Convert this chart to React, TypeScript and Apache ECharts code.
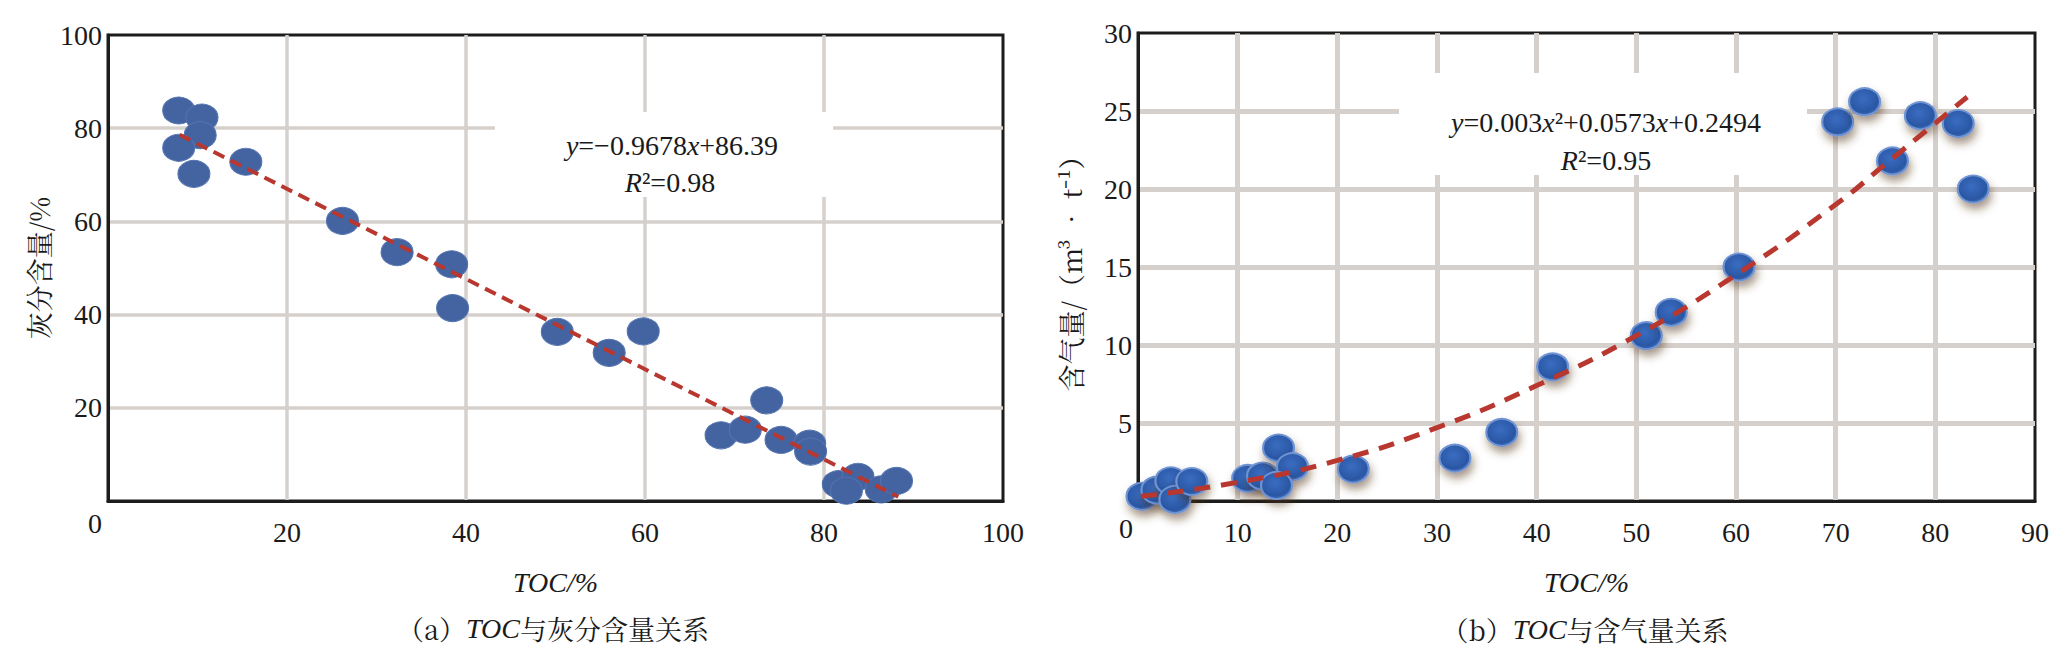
import React, { useEffect, useRef } from 'react';
import * as echarts from 'echarts';

// (a) TOC vs ash content
const ashTOC = [7.9, 10.5, 10.3, 7.9, 9.6, 15.4, 26.2, 32.3, 38.4, 38.5, 50.2, 56.0, 59.8, 73.6, 68.5, 71.2, 75.2, 78.4, 78.5, 81.6, 83.8, 82.5, 86.4, 88.1];
const ashContent = [83.8, 82.3, 78.5, 75.8, 70.2, 72.8, 60.1, 53.4, 50.8, 41.4, 36.3, 31.8, 36.4, 21.6, 14.1, 15.3, 13.1, 12.3, 10.6, 3.6, 5.2, 2.2, 2.5, 4.3];
const ashFitTOC = [8.0, 88.3];
const ashFitValue = [78.6, 0.9];

// (b) TOC vs gas content
const gasTOC = [0.4, 1.9, 3.3, 3.7, 5.4, 11.0, 12.5, 14.1, 15.5, 13.9, 21.6, 31.8, 36.5, 41.6, 51.0, 53.5, 60.3, 70.2, 72.9, 75.7, 78.5, 82.3, 83.8];
const gasContent = [0.3, 0.7, 1.3, 0.1, 1.25, 1.45, 1.6, 3.4, 2.2, 1.0, 2.05, 2.75, 4.4, 8.6, 10.6, 12.1, 15.0, 24.3, 25.6, 21.8, 24.7, 24.2, 20.0];
const gasFitTOC = [0.3, 10, 20, 30, 40, 50, 60, 70, 75, 83.2];
const gasFitValue = [0.3, 1.2, 2.6, 4.7, 7.4, 10.6, 14.5, 19.0, 21.6, 25.9];

const SERIF = 'Liberation Serif';
const CJK = 'Noto Serif CJK SC';
const TXT = '#1a1a1a';
const GRID = '#d6d0cd';
const BORDER = '#1c1c1c';
const TREND = '#b8372f';

const zip = (xs: number[], ys: number[]) => xs.map((x, i) => [x, ys[i]]);

export default function App() {
  const ref = useRef<HTMLDivElement>(null);
  useEffect(() => {
    if (!ref.current) return;
    const chart = echarts.init(ref.current, null, { renderer: 'svg' });

    const xAxisBase = (grid: number, max: number, interval: number, splitW: number) => ({
      type: 'value',
      gridIndex: grid,
      min: 0,
      max,
      interval,
      axisLine: { show: true, onZero: false, lineStyle: { color: BORDER, width: 3 } },
      axisTick: { show: false },
      axisLabel: { fontFamily: SERIF, fontSize: 28, color: TXT, margin: 17, showMinLabel: false, showMaxLabel: true },
      splitLine: { show: true, showMinLine: false, showMaxLine: false, lineStyle: { color: GRID, width: splitW } },
      name: '{i|TOC}/%',
      nameLocation: 'middle',
      nameGap: 67,
      nameTextStyle: {
        fontFamily: SERIF,
        fontSize: 28,
        color: TXT,
        fontStyle: 'italic',
        rich: { i: { fontFamily: SERIF, fontSize: 28, fontStyle: 'italic', color: TXT } },
      },
    });

    const yAxisBase = (grid: number, max: number, interval: number, splitW: number, name: string, nameGap: number) => ({
      type: 'value',
      gridIndex: grid,
      min: 0,
      max,
      interval,
      axisLine: { show: true, onZero: false, lineStyle: { color: BORDER, width: 3 } },
      axisTick: { show: false },
      axisLabel: {
        fontFamily: SERIF,
        fontSize: 28,
        color: TXT,
        margin: 6,
        showMinLabel: false,
        showMaxLabel: true,
      },
      splitLine: { show: true, showMinLine: false, showMaxLine: false, lineStyle: { color: GRID, width: splitW } },
      name,
      nameLocation: 'middle',
      nameGap,
      nameTextStyle: { fontFamily: CJK, fontSize: 27, color: TXT },
    });

    const gasMarker = {
      opacity: 1,
      color: new echarts.graphic.RadialGradient(0.45, 0.4, 0.65, [
        { offset: 0, color: '#3a6cc0' },
        { offset: 0.75, color: '#2a57a4' },
        { offset: 1, color: '#4a77c2' },
      ]),
      borderColor: '#6f94d3',
      borderWidth: 2,
      shadowBlur: 9,
      shadowColor: 'rgba(80,45,20,0.5)',
      shadowOffsetX: 2,
      shadowOffsetY: 6,
    };

    const eqStyle = {
      fontFamily: SERIF,
      fontSize: 28,
      fill: TXT,
      align: 'center',
      verticalAlign: 'middle',
      rich: {
        i: { fontFamily: SERIF, fontSize: 28, fontStyle: 'italic', fill: TXT },
        n: { fontFamily: SERIF, fontSize: 28, fill: TXT },
      },
    };

    const capStyle = {
      fontFamily: CJK,
      fontSize: 27,
      fill: TXT,
      align: 'center',
      verticalAlign: 'middle',
      rich: {
        i: { fontFamily: SERIF, fontSize: 28, fontStyle: 'italic', fill: TXT },
        n: { fontFamily: CJK, fontSize: 27, fill: TXT },
      },
    };

    const zeroStyle = { fontFamily: SERIF, fontSize: 28, fill: TXT, align: 'right', verticalAlign: 'middle' };

    chart.setOption({
      animation: false,
      backgroundColor: '#ffffff',
      grid: [
        { left: 108, top: 35, width: 895, height: 466, show: true, borderColor: BORDER, borderWidth: 3, backgroundColor: '#fff' },
        { left: 1138, top: 33, width: 897, height: 468, show: true, borderColor: BORDER, borderWidth: 3, backgroundColor: '#fff' },
      ],
      xAxis: [xAxisBase(0, 100, 20, 3.5), xAxisBase(1, 90, 10, 5)],
      yAxis: [
        yAxisBase(0, 100, 20, 3.5, '灰分含量/%', 56),
        yAxisBase(1, 30, 5, 5, '含气量/（m³ • t⁻¹）', 54),
      ],
      series: [
        {
          type: 'scatter',
          xAxisIndex: 0,
          yAxisIndex: 0,
          symbol: 'circle',
          symbolSize: [32, 27],
          itemStyle: { opacity: 1, color: '#4463a1', borderColor: '#5373b0', borderWidth: 1 },
          data: zip(ashTOC, ashContent),
          z: 2,
        },
        {
          type: 'line',
          xAxisIndex: 0,
          yAxisIndex: 0,
          symbol: 'none',
          lineStyle: { type: [12, 7], color: TREND, width: 4 },
          data: zip(ashFitTOC, ashFitValue),
          z: 4,
        },
        {
          type: 'scatter',
          xAxisIndex: 1,
          yAxisIndex: 1,
          symbol: 'circle',
          symbolSize: [31, 27],
          itemStyle: gasMarker,
          data: zip(gasTOC, gasContent),
          clip: false,
          z: 2,
        },
        {
          type: 'line',
          xAxisIndex: 1,
          yAxisIndex: 1,
          symbol: 'none',
          smooth: true,
          lineStyle: { type: [16, 11], color: TREND, width: 5 },
          data: zip(gasFitTOC, gasFitValue),
          z: 4,
        },
      ],
      graphic: [
        { type: 'rect', z: 1, silent: true, shape: { x: 495, y: 112, width: 338, height: 85 }, style: { fill: '#ffffff' } },
        { type: 'rect', z: 1, silent: true, shape: { x: 1399, y: 73, width: 408, height: 102 }, style: { fill: '#ffffff' } },
        { type: 'text', z: 5, x: 672, y: 145, style: { ...eqStyle, text: '{i|y}{n|=−0.9678}{i|x}{n|+86.39}' } },
        { type: 'text', z: 5, x: 670, y: 182, style: { ...eqStyle, text: '{i|R}{n|²=0.98}' } },
        { type: 'text', z: 5, x: 1606, y: 122, style: { ...eqStyle, text: '{i|y}{n|=0.003}{i|x}{n|²+0.0573}{i|x}{n|+0.2494}' } },
        { type: 'text', z: 5, x: 1606, y: 160, style: { ...eqStyle, text: '{i|R}{n|²=0.95}' } },
        { type: 'text', z: 5, x: 553, y: 628, style: { ...capStyle, text: '{n|（a）}{i|TOC}{n|与灰分含量关系}' } },
        { type: 'text', z: 5, x: 1585, y: 629, style: { ...capStyle, text: '{n|（b）}{i|TOC}{n|与含气量关系}' } },
        { type: 'text', z: 5, x: 102, y: 523, style: { ...zeroStyle, text: '0' } },
        { type: 'text', z: 5, x: 1133, y: 528, style: { ...zeroStyle, text: '0' } },
      ],
    });

    return () => chart.dispose();
  }, []);

  return (
    <div
      ref={ref}
      style={{ position: 'fixed', left: 0, top: 0, width: 2065, height: 661, background: '#fff' }}
    />
  );
}
